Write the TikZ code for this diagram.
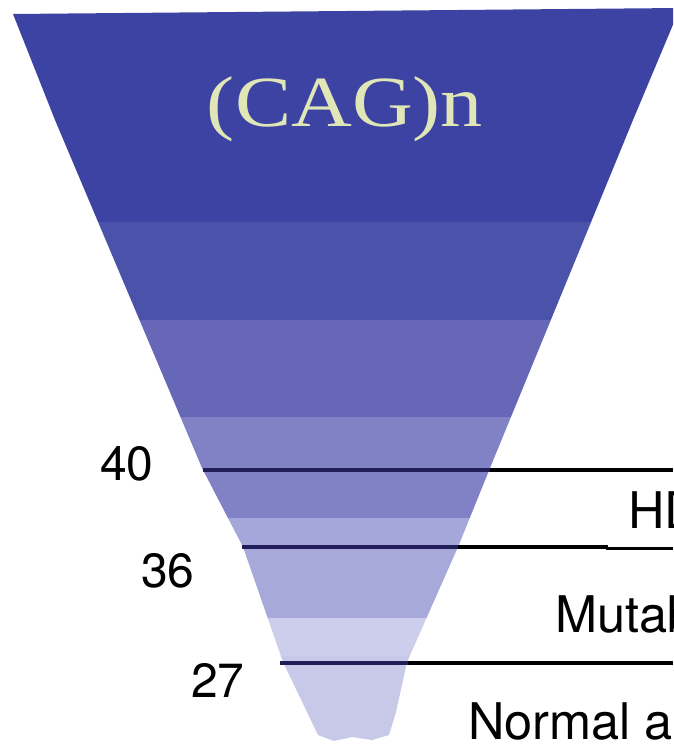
\documentclass[tikz,border=0pt]{standalone}
\usepackage{fontspec}
\newfontfamily\labfont{TeX Gyre Heros}
\newfontfamily\serfont{Liberation Serif}
\definecolor{bandA}{RGB}{61,67,163}
\definecolor{bandB}{RGB}{74,82,170}
\definecolor{bandC}{RGB}{102,103,182}
\definecolor{bandD}{RGB}{129,130,197}
\definecolor{bandE}{RGB}{165,166,217}
\definecolor{bandF}{RGB}{168,169,219}
\definecolor{bandG}{RGB}{205,206,235}
\definecolor{bandH}{RGB}{200,201,233}
\definecolor{navyline}{RGB}{33,29,88}
\definecolor{cagtext}{RGB}{224,230,182}
\begin{document}
\begin{tikzpicture}[x=1pt,y=-1pt,
  lab/.style={font=\labfont\fontsize{50.5}{50.5}\selectfont, inner sep=0pt, anchor=base west, text=black},
  numlab/.style={font=\labfont\fontsize{48}{48}\selectfont, inner sep=0pt, anchor=base west, text=black},
  outline/.style={line width=3.6pt, black},
  inline/.style={line width=3.6pt, navyline}]
\useasboundingbox (0,0) rectangle (673,749);
\clip (0,0) rectangle (673,749);
\fill[white] (0,0) rectangle (673,749);
% funnel with bands
\begin{scope}
\clip (13,14) -- (680,8) -- (633,120) -- (490,468) -- (458,547) -- (407,662) -- (396,712) -- (389,735) -- (372,740) -- (352,737) -- (334,741) -- (318,735) -- (283,662) -- (243,547) -- (202,468) -- (55,120) -- cycle;
\fill[bandA] (0,0) rectangle (700,222);
\fill[bandB] (0,222) rectangle (700,320);
\fill[bandC] (0,320) rectangle (700,417);
\fill[bandD] (0,417) rectangle (700,518);
\fill[bandE] (0,518) rectangle (700,547);
\fill[bandF] (0,547) rectangle (700,618);
\fill[bandG] (0,618) rectangle (700,656);
\fill[bandH] (0,656) rectangle (700,760);
\end{scope}
% title
\node[inner sep=0pt, anchor=base, text=cagtext] (cag) at (345,126)
  {\scalebox{1.17}[1]{\serfont\fontsize{72}{72}\selectfont (CAG)n}};
% threshold lines
\coordinate (l40a) at (203,470); \coordinate (l40b) at (490,470); \coordinate (l40c) at (673,470);
\coordinate (l36a) at (242,547); \coordinate (l36b) at (458,547); \coordinate (l36c) at (608,547);
\coordinate (l36d) at (606,548.5); \coordinate (l36e) at (673,548.5);
\coordinate (l27a) at (280,663); \coordinate (l27b) at (408,663); \coordinate (l27c) at (673,663);
\draw[outline] (l40b) -- (l40c);
\draw[inline] (l40a) -- (l40b);
\draw[outline] (l36b) -- (l36c);
\draw[outline, line width=2.6pt] (l36d) -- (l36e);
\draw[inline] (l36a) -- (l36b);
\draw[outline] (l27b) -- (l27c);
\draw[inline] (l27a) -- (l27b);
% numbers
\node[numlab] (n40) at (100,480) {40};
\node[numlab] (n36) at (141,587) {36};
\node[numlab] (n27) at (191,697) {27};
% category labels (cut by the right edge, as in the reference)
\node[lab] (hd) at (628,528) {HD};
\node[lab] (mut) at (555,632) {Mutable};
\node[lab] (norm) at (468,739) {Normal alleles};
\end{tikzpicture}
\end{document}
